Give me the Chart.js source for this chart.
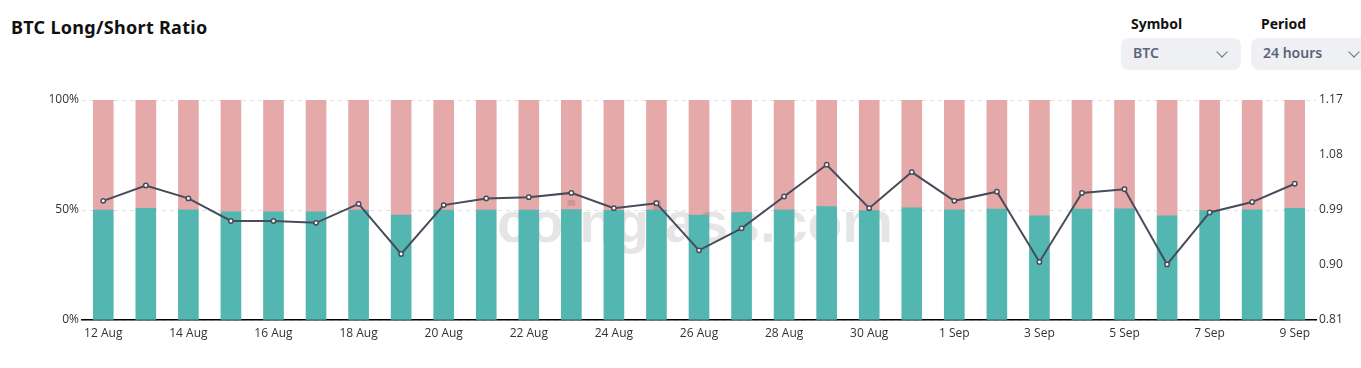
<!DOCTYPE html>
<html>
<head>
<meta charset="utf-8">
<script src="https://cdn.jsdelivr.net/npm/chart.js@4/dist/chart.umd.min.js"></script>
<style>
  html, body { margin: 0; padding: 0; background: #fff; }
  body { width: 1361px; height: 368px; position: relative; overflow: hidden; font-family: "Noto Sans", "Open Sans", sans-serif; }
  #title { position: absolute; left: 11px; top: 15px; font-size: 18px; font-weight: 700; color: #111; letter-spacing: 0.3px; }
  .lbl { position: absolute; top: 14px; font-size: 14px; font-weight: 700; color: #111; }
  .sel { position: absolute; top: 38px; height: 32px; border-radius: 8px; background: #eef0f4; }
  .sel span { position: absolute; left: 12px; top: 5px; font-size: 14px; font-weight: 600; color: #5b6479; }
  .sel i { position: absolute; top: 10px; width: 7px; height: 7px; border-right: 1.3px solid #6b7385; border-bottom: 1.3px solid #6b7385; transform: rotate(45deg); }
  #wrap { position: absolute; left: 0; top: 0; width: 1361px; height: 368px; }
</style>
</head>
<body>
<div id="title">BTC Long/Short Ratio</div>
<div class="lbl" style="left:1131px">Symbol</div>
<div class="sel" style="left:1121px;width:120px"><span>BTC</span><i style="left:97px"></i></div>
<div class="lbl" style="left:1261px">Period</div>
<div class="sel" style="left:1251px;width:120px"><span>24 hours</span><i style="left:99px"></i></div>
<div id="wrap"><canvas id="chart" width="1361" height="368"></canvas></div>
<script>
// dates, 24h buckets
const dates = ['12 Aug','13 Aug','14 Aug','15 Aug','16 Aug','17 Aug','18 Aug','19 Aug','20 Aug','21 Aug',
  '22 Aug','23 Aug','24 Aug','25 Aug','26 Aug','27 Aug','28 Aug','29 Aug','30 Aug','31 Aug',
  '1 Sep','2 Sep','3 Sep','4 Sep','5 Sep','6 Sep','7 Sep','8 Sep','9 Sep'];
// long accounts %
const longPct = [50.0, 50.8, 50.1, 49.2, 49.2, 49.2, 50.0, 47.7, 50.0, 50.0,
  50.0, 50.2, 49.8, 50.0, 47.7, 48.8, 50.1, 51.5, 49.7, 51.0,
  50.1, 50.4, 47.4, 50.4, 50.5, 47.4, 49.7, 50.1, 50.8];
// short accounts %
const shortPct = longPct.map(v => +(100 - v).toFixed(1));
// long/short ratio
const ratio = [1.005, 1.030, 1.009, 0.972, 0.972, 0.969, 1.000, 0.918, 0.998, 1.009,
  1.011, 1.018, 0.993, 1.001, 0.924, 0.960, 1.012, 1.064, 0.993, 1.052,
  1.005, 1.020, 0.905, 1.018, 1.024, 0.901, 0.986, 1.003, 1.033];
const pctTicks = [0, 50, 100];
const ratioTicks = [0.81, 0.90, 0.99, 1.08, 1.17];

const tickFont = { family: '"Open Sans", "Noto Sans", sans-serif', size: 12 };

const watermark = {
  id: 'watermark',
  afterDatasetDraw(chart, args) {
    // after the last bar set, before the line
    if (args.index !== 1) return;
    const ctx = chart.ctx;
    ctx.save();
    let size = 58;
    const fam = '"Liberation Sans", Arial, sans-serif';
    ctx.font = 'bold ' + size + 'px ' + fam;
    const w = ctx.measureText('coinglass.com').width;
    size = size * 396 / w;
    ctx.font = 'bold ' + size + 'px ' + fam;
    ctx.fillStyle = 'rgba(0,0,0,0.1)';
    ctx.textAlign = 'center';
    ctx.textBaseline = 'alphabetic';
    ctx.fillText('coinglass.com', 695, 242);
    ctx.restore();
  }
};

new Chart(document.getElementById('chart'), {
  data: {
    labels: dates,
    datasets: [
      { type: 'bar', label: 'Long', data: longPct, yAxisID: 'y', stack: 's',
        backgroundColor: '#53b6b0', barThickness: 20, order: 1 },
      { type: 'bar', label: 'Short', data: shortPct, yAxisID: 'y', stack: 's',
        backgroundColor: '#e4a9a8', barThickness: 20, order: 1 },
      { type: 'line', label: 'Ratio', data: ratio, yAxisID: 'y1', order: 0,
        borderColor: '#464c59', borderWidth: 2, tension: 0,
        pointRadius: 2.2, pointBorderWidth: 1.5, pointBackgroundColor: '#fff', pointBorderColor: '#464c59' }
    ]
  },
  options: {
    responsive: false,
    animation: false,
    devicePixelRatio: 1,
    layout: { padding: { top: 100, bottom: 20, left: 0, right: 0 } },
    plugins: { legend: { display: false }, tooltip: { enabled: false } },
    scales: {
      x: {
        stacked: true,
        grid: { display: false, drawTicks: false },
        border: { display: true, color: '#000', width: 1.5 },
        ticks: {
          autoSkip: false, maxRotation: 0, padding: 6, color: '#333', font: tickFont,
          callback: (v, i) => i % 2 === 0 ? dates[i] : ''
        },
        afterFit: s => { s.height = 28; }
      },
      y: {
        position: 'left', stacked: true, min: 0, max: 100,
        grid: { color: '#e2e2e2', drawTicks: false },
        border: { display: false, dash: [4, 4] },
        afterBuildTicks: s => { s.ticks = pctTicks.map(v => ({ value: v })); },
        ticks: { padding: 3, color: '#333', font: tickFont, callback: v => v + '%' },
        afterFit: s => { s.width = 82; }
      },
      y1: {
        position: 'right', min: 0.81, max: 1.17,
        grid: { display: false, drawTicks: false },
        border: { display: false },
        afterBuildTicks: s => { s.ticks = ratioTicks.map(v => ({ value: v })); },
        ticks: { padding: 3, color: '#333', font: tickFont, callback: v => v.toFixed(2) },
        afterFit: s => { s.width = 45; }
      }
    }
  },
  plugins: [watermark]
});
</script>
</body>
</html>
